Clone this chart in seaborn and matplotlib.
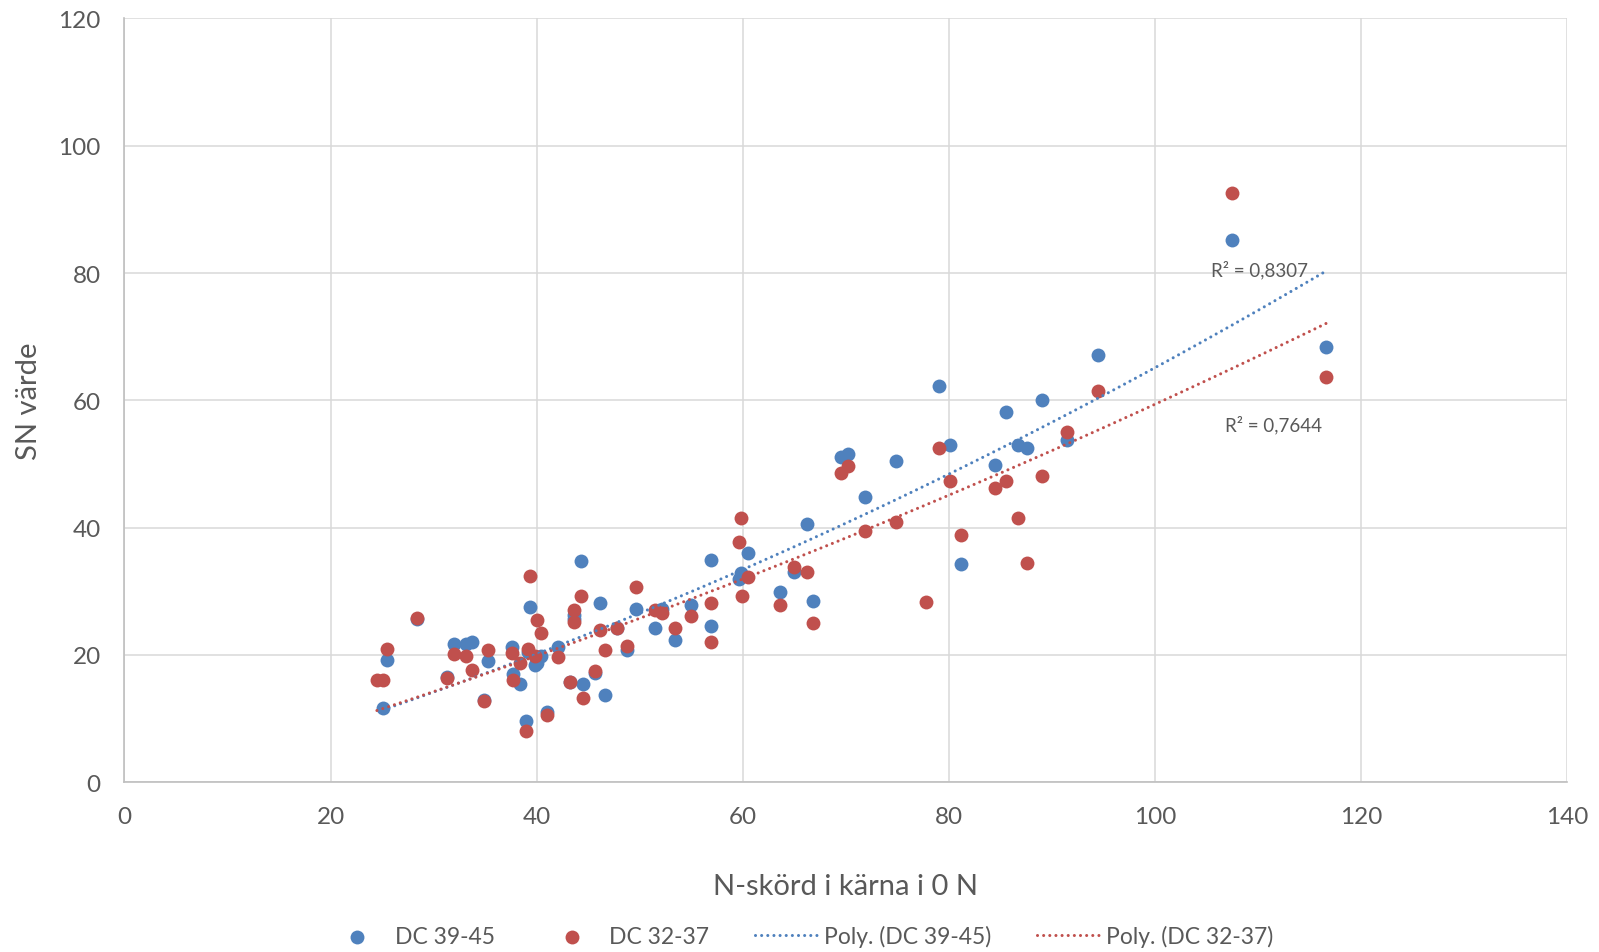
import matplotlib
matplotlib.use("Agg")
import matplotlib.pyplot as plt
import seaborn as sns
import numpy as np
import pandas as pd

# N-skörd (x) with SN values for the two development stages
N_SKORD = [24.5, 25.1, 25.5, 28.4, 31.3, 32.0, 33.1, 33.7, 34.9, 35.3,
           37.6, 37.7, 38.4, 39.0, 39.2, 39.4, 39.8, 40.0, 40.4, 41.0,
           42.1, 43.2, 43.6, 43.6, 44.3, 44.5, 45.7, 46.1, 46.6, 47.8,
           48.8, 49.6, 51.5, 52.2, 53.4, 55.0, 56.9, 56.9, 59.6, 59.8,
           59.9, 60.5, 63.6, 65.0, 66.2, 66.8, 69.5, 70.2, 71.9, 74.9,
           77.8, 79.0, 80.1, 81.2, 84.5, 85.5, 86.7, 87.6, 89.0, 91.5,
           94.5, 107.5, 116.6]
DC_39_45 = [np.nan, 11.6, 19.2, 25.6, 16.6, 21.7, 21.7, 22.1, 12.9, 19.0,
            21.2, 17.0, 15.5, 9.6, 20.5, 27.6, 18.4, 18.8, 19.8, 11.0,
            21.2, 15.7, 25.6, 26.2, 34.8, 15.5, 17.2, 28.1, 13.7, 24.3,
            20.8, 27.2, 24.2, 27.2, 22.4, 27.8, 34.9, 24.6, 32.0, 32.8,
            32.4, 36.0, 29.9, 33.0, 40.6, 28.4, 51.1, 51.6, 44.8, 50.5,
            np.nan, 62.2, 53.0, 34.3, 49.9, 58.1, 53.0, 52.5, 60.0, 53.7,
            67.1, 85.2, 68.3]
DC_32_37 = [16.1, 16.1, 21.0, 25.8, 16.4, 20.1, 19.9, 17.7, 12.7, 20.8,
            20.3, 16.1, 18.7, 8.0, 20.9, 32.4, 19.8, 25.5, 23.5, 10.5,
            19.7, 15.8, 27.0, 25.2, 29.2, 13.2, 17.5, 23.9, 20.8, 24.3,
            21.4, 30.6, 27.0, 26.6, 24.3, 26.1, 28.1, 22.1, 37.7, 41.5,
            29.3, 32.2, 27.9, 33.8, 33.0, 25.0, 48.6, 49.6, 39.4, 40.9,
            28.3, 52.5, 47.4, 38.8, 46.2, 47.4, 41.5, 34.4, 48.1, 55.0,
            61.5, 92.5, 63.6]

# polynomial trendline values
TREND_X_B = [25.1, 40, 60, 80, 100, 116.5]
TREND_B = [11.6, 19.6, 33.9, 48.2, 65.2, 80.2]
TREND_X_R = [24.5, 40, 60, 80, 100, 116.6]
TREND_R = [11.4, 19.5, 32.3, 44.8, 59.6, 72.0]
R2_LABELS = ["R² = 0,8307", "R² = 0,7644"]

BLUE = "#4F81BD"
RED = "#C0504D"
TEXT = "#595959"
FONT = ["Lato", "DejaVu Sans"]

df = pd.DataFrame({"x": N_SKORD, "b": DC_39_45, "r": DC_32_37})

sns.set_style("white")
plt.rcParams["font.family"] = FONT

fig = plt.figure(figsize=(15.99, 9.53), dpi=100)
ax = fig.add_axes([0.0778, 0.1782, 0.9024, 0.8014])

sns.scatterplot(data=df, x="x", y="b", color=BLUE, s=100, linewidth=0,
                ax=ax, label="DC 39-45", zorder=3)
sns.scatterplot(data=df, x="x", y="r", color=RED, s=100, linewidth=0,
                ax=ax, label="DC 32-37", zorder=3)

dots = dict(lw=2.2, linestyle=(0, (0.01, 2)), dash_capstyle="round", zorder=4)
sns.regplot(x=TREND_X_B, y=TREND_B, order=2, ci=None, scatter=False, ax=ax,
            color=BLUE, label="Poly. (DC 39-45)", line_kws=dots)
sns.regplot(x=TREND_X_R, y=TREND_R, order=2, ci=None, scatter=False, ax=ax,
            color=RED, label="Poly. (DC 32-37)", line_kws=dots)

ax.text(110.1, 80.6, R2_LABELS[0], ha="center", va="center", fontsize=13.5, color=TEXT)
ax.text(111.5, 56.2, R2_LABELS[1], ha="center", va="center", fontsize=13.5, color=TEXT)

ax.set_xlim(0, 140)
ax.set_ylim(0, 120)
ax.set_xticks(range(0, 141, 20))
ax.set_yticks(range(0, 121, 20))
ax.grid(True, color="#D9D9D9", lw=1.1)
ax.set_axisbelow(True)
for side in ["top", "right"]:
    ax.spines[side].set_visible(False)
for side in ["left", "bottom"]:
    ax.spines[side].set_color("#BFBFBF")
    ax.spines[side].set_linewidth(1.2)
ax.tick_params(length=0, labelsize=17.5, labelcolor=TEXT, pad=17)

ax.set_xlabel("N-skörd i kärna i 0 N", fontsize=21, color=TEXT, labelpad=33)
ax.set_ylabel("SN värde", fontsize=21, color=TEXT, labelpad=12)

handles, labels = ax.get_legend_handles_labels()
if ax.legend_:
    ax.legend_.remove()
fig.legend(handles, labels, loc="center", bbox_to_anchor=(0.5, 0.017), ncol=4,
           frameon=False, fontsize=16.5, labelcolor=TEXT, handlelength=2.7,
           handletextpad=0.3, columnspacing=2.0, markerscale=1)

fig.savefig("out.png", dpi=100)
